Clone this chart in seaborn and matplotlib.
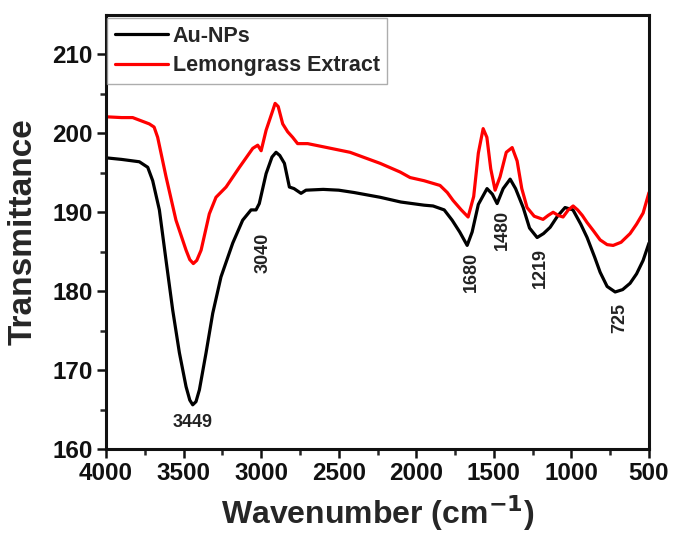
import numpy as np
import pandas as pd
import matplotlib
matplotlib.use("Agg")
import matplotlib.pyplot as plt
import seaborn as sns

# ---- data ----
au_wn = [4000, 3900, 3785, 3731, 3699, 3656, 3613, 3570, 3527, 3484, 3460, 3441, 3420,
         3398, 3355, 3312, 3259, 3183, 3119, 3065, 3033, 3012, 2968, 2930, 2904, 2880,
         2850, 2818, 2788, 2743, 2711, 2600, 2500, 2400, 2233, 2100, 1950,
         1892, 1820, 1769, 1720, 1672, 1640, 1600, 1544, 1510, 1479, 1440, 1395, 1360,
         1311, 1270, 1221, 1180, 1137, 1090, 1041, 990, 940, 899, 850, 815, 770, 718,
         670, 622, 580, 538, 500]
au_t = [196.9, 196.7, 196.4, 195.7, 194.0, 190.3, 183.9, 177.6, 172.2, 167.9, 166.2, 165.6,
        166.0, 167.5, 172.2, 177.2, 181.8, 186.1, 189.0, 190.3, 190.3, 191.1, 194.9, 197.0,
        197.6, 197.2, 196.2, 193.2, 193.0, 192.4, 192.8, 192.9, 192.8, 192.5,
        191.9, 191.3, 190.9, 190.8, 190.3, 189.0, 187.5, 185.8, 187.5, 191.0, 193.0, 192.3,
        191.1, 193.0, 194.2, 193.0, 190.6, 188.0, 186.8, 187.3, 188.1, 189.5, 190.6, 190.3,
        188.5, 186.8, 184.3, 182.4, 180.6, 179.9, 180.2, 181.0, 182.2, 183.9, 186.1]

lg_wn = [4000, 3900, 3828, 3721, 3690, 3667, 3613, 3549, 3484, 3460, 3437, 3415, 3387,
         3334, 3291, 3226, 3140, 3054, 3022, 3000, 2968, 2925, 2910, 2890, 2861, 2829,
         2797, 2765, 2724, 2700, 2600, 2427, 2233, 2104, 2040,
         1950, 1847, 1800, 1763, 1710, 1666, 1630, 1600, 1569, 1545, 1520, 1492, 1460,
         1420, 1382, 1350, 1320, 1286, 1240, 1183, 1150, 1118, 1085, 1054, 1020, 989,
         960, 930, 899, 860, 815, 770, 731, 680, 622, 580, 538, 500]
lg_t = [202.1, 202.0, 202.0, 201.2, 200.8, 199.5, 194.5, 189.0, 185.2, 184.0, 183.5, 183.9,
        185.2, 189.8, 191.9, 193.2, 195.7, 198.1, 198.5, 197.8, 200.4, 202.9, 203.8, 203.4,
        201.2, 200.2, 199.5, 198.7, 198.7, 198.7, 198.3, 197.6,
        196.2, 195.1, 194.4, 194.0, 193.4, 192.5, 191.5, 190.3, 189.4, 192.0, 197.5, 200.6,
        199.5, 195.5, 192.8, 194.5, 197.6, 198.2, 196.5, 193.0, 190.6, 189.5, 189.1, 189.6,
        190.0, 189.6, 189.4, 190.3, 190.8, 190.3, 189.6, 188.7, 187.7, 186.5, 185.9, 185.8,
        186.2, 187.3, 188.5, 189.9, 192.5]

series_names = ["Au-NPs", "Lemongrass Extract"]
series_colors = ["#000000", "#ff0000"]

peak_labels = ["3449", "3040", "1680", "1480", "1219", "725"]
peak_x = [3440, 2988, 1647, 1447, 1202, 686]
peak_y = [163.4, 184.8, 182.4, 187.7, 182.9, 176.6]
peak_rot = [0, 90, 90, 90, 90, 90]

x_ticks = [4000, 3500, 3000, 2500, 2000, 1500, 1000, 500]
y_ticks = [160, 170, 180, 190, 200, 210]

# ---- build frame ----
df = pd.concat([
    pd.DataFrame({"wn": au_wn, "T": au_t, "sample": series_names[0]}),
    pd.DataFrame({"wn": lg_wn, "T": lg_t, "sample": series_names[1]}),
], ignore_index=True)

sns.set_theme(style="ticks")
plt.rcParams["font.family"] = ["Liberation Sans", "DejaVu Sans"]
plt.rcParams["font.weight"] = "bold"

fig = plt.figure(figsize=(6.73, 5.35), dpi=100)
ax = fig.add_axes([106 / 673, 1 - 449 / 535, 543 / 673, 434 / 535])

sns.lineplot(data=df, x="wn", y="T", hue="sample", hue_order=series_names,
             palette=dict(zip(series_names, series_colors)), estimator=None,
             sort=False, linewidth=2.3, ax=ax)
for ln in ax.get_lines():
    ln.set_solid_joinstyle("round")

ax.set_xlim(4000, 500)
ax.set_ylim(160, 215)
ax.set_xticks(x_ticks)
ax.set_yticks(y_ticks)
ax.set_xticks(np.arange(3750, 500, -500), minor=True)
ax.set_yticks(np.arange(165, 215, 10), minor=True)
ax.tick_params(axis="both", which="major", direction="out", length=6.5, width=1.8,
               labelsize=17.5, pad=3, colors="#111111")
ax.tick_params(axis="both", which="minor", direction="out", length=4, width=1.8)
ax.tick_params(top=False, right=False)
for lab in ax.get_xticklabels() + ax.get_yticklabels():
    lab.set_fontweight("bold")
for sp in ax.spines.values():
    sp.set_linewidth(2.2)
    sp.set_color("#111111")

ax.set_xlabel("Wavenumber (cm$^{\\mathbf{-1}}$)", fontsize=23, fontweight="bold", labelpad=6)
ax.set_ylabel("Transmittance", fontsize=24, fontweight="bold", labelpad=10)

for lab, x, y, r in zip(peak_labels, peak_x, peak_y, peak_rot):
    ax.text(x, y, lab, rotation=r, ha="center", va="center", fontsize=13,
            fontweight="bold", color="#222222")

leg = ax.legend(loc="upper left", bbox_to_anchor=(0.002, 0.993), borderaxespad=0,
                frameon=True, fancybox=False, handlelength=2.5,
                handletextpad=0.2, labelspacing=0.4, borderpad=0.35,
                prop={"weight": "bold", "size": 15.5})
leg.get_frame().set_edgecolor("#999999")
leg.get_frame().set_linewidth(1.0)
for h in leg.get_lines():
    h.set_linewidth(2.3)

fig.savefig("out.png", dpi=100)
